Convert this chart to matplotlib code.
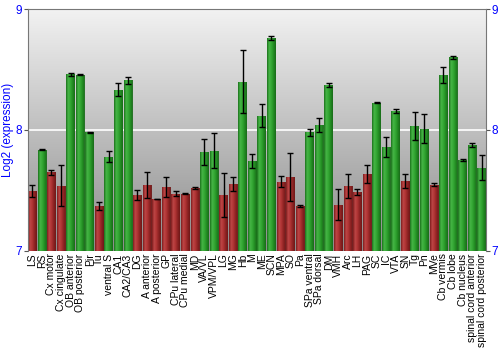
import matplotlib
matplotlib.use("Agg")
import matplotlib.pyplot as plt
import numpy as np
from matplotlib.colors import LinearSegmentedColormap

regions = ["LS", "RS", "Cx motor", "Cx cingulate", "OB anterior", "OB posterior",
           "Pir", "Tu", "ventral S", "CA1", "CA2/CA3", "DG", "A anterior",
           "A posterior", "GP", "CPu lateral", "CPu medial", "MD", "VA/VL",
           "VPM/VPL", "LG", "MG", "Hb", "M", "ME", "SCN", "MPA", "SO", "Pa",
           "SPa ventral", "SPa dorsal", "DM", "VMH", "Arc", "LH", "PAG", "SC",
           "IC", "VTA", "SN", "Tg", "Pn", "MVe", "Cb vermis", "Cb lobe",
           "Cb nucleus", "spinal cord anterior", "spinal cord posterior"]

expression = [7.49, 7.834, 7.65, 7.536, 8.46, 8.456, 7.98, 7.37, 7.776, 8.334,
              8.41, 7.46, 7.544, 7.428, 7.527, 7.47, 7.47, 7.52, 7.817, 7.826,
              7.46, 7.55, 8.40, 7.743, 8.116, 8.76, 7.572, 7.61, 7.37, 7.98,
              8.04, 8.37, 7.38, 7.536, 7.486, 7.638, 8.224, 7.86, 8.157, 7.577,
              8.03, 8.008, 7.547, 8.453, 8.60, 7.75, 7.873, 7.688]

errors = [0.05, 0.005, 0.02, 0.17, 0.01, 0.005, 0.003, 0.03, 0.045, 0.055,
          0.03, 0.04, 0.11, 0.003, 0.08, 0.02, 0.005, 0.01, 0.11, 0.145,
          0.18, 0.06, 0.26, 0.06, 0.094, 0.02, 0.047, 0.2, 0.01, 0.03,
          0.06, 0.015, 0.127, 0.097, 0.025, 0.075, 0.005, 0.083, 0.015, 0.06,
          0.116, 0.12, 0.01, 0.065, 0.01, 0.01, 0.015, 0.1]

high = [v > 7.67 for v in expression]

plt.rcParams["font.family"] = ["Liberation Sans", "DejaVu Sans"]

fig = plt.figure(figsize=(5, 3.5), dpi=100)
ax = fig.add_axes([0.056, 0.284, 0.916, 0.690])

x = np.arange(len(regions))
ax.set_xlim(-0.45, len(regions) - 0.55)
ax.set_ylim(7, 9)

# grey gradient background
bg = np.linspace(0, 1, 256).reshape(-1, 1)
bg_cmap = LinearSegmentedColormap.from_list("bg", ["#8c8c8c", "#f2f2f2"])
ax.imshow(bg, cmap=bg_cmap, aspect="auto", origin="lower",
          extent=[-0.45, len(regions) - 0.55, 7, 9], zorder=0)
ax.axhline(8, color="white", lw=1.2, zorder=1)

# bars with a cylinder-like shading
red_cmap = LinearSegmentedColormap.from_list(
    "r", ["#7a1c1c", "#c04848", "#b03434", "#8a2222", "#6a1616"])
green_cmap = LinearSegmentedColormap.from_list(
    "g", ["#1c6e1c", "#48b848", "#34a834", "#228a22", "#176617"])
shade = np.linspace(0, 1, 64).reshape(1, -1)

colors = ["#2e9e2e" if h else "#a83030" for h in high]
bars = ax.bar(x, np.array(expression) - 7, width=0.9, bottom=7,
              color=colors, zorder=2)
for b, h in zip(bars, high):
    x0, y0 = b.get_x(), b.get_y()
    im = ax.imshow(shade, cmap=green_cmap if h else red_cmap, aspect="auto",
                   extent=[x0, x0 + b.get_width(), y0, y0 + b.get_height()],
                   zorder=2.5, alpha=0.92)
    im.set_clip_path(b)

ax.errorbar(x, expression, yerr=errors, fmt="none", ecolor="black",
            elinewidth=1, capsize=2, capthick=1, zorder=3)

ax.set_xticks(x)
ax.set_xticklabels(regions, rotation=90, fontsize=7.5)
ax.tick_params(axis="x", length=0, pad=2)

ax.set_yticks([7, 8, 9])
ax.tick_params(axis="y", labelcolor="blue", labelsize=8.5, length=3,
               color="#555555", pad=1, right=True, labelright=True)
ax.set_ylabel("Log2 (expression)", color="blue", fontsize=8.5, labelpad=1)

for side in ["left", "right", "top"]:
    ax.spines[side].set_color("#777777")
ax.spines["bottom"].set_visible(False)

fig.savefig("out.png", dpi=100)
